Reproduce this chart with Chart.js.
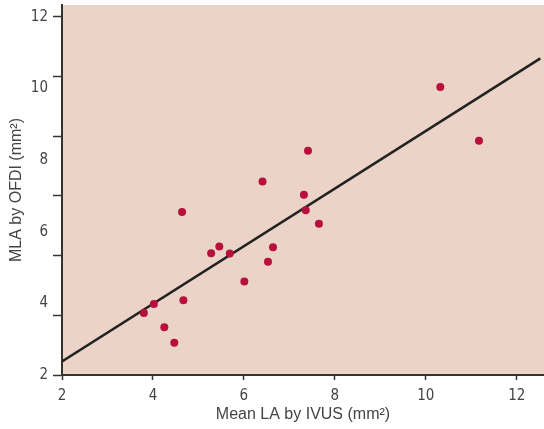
<!DOCTYPE html>
<html>
<head>
<meta charset="utf-8">
<script src="https://cdn.jsdelivr.net/npm/chart.js@4"></script>
<style>
  html, body { margin: 0; padding: 0; background: #fff; }
</style>
</head>
<body>
<canvas id="chart" width="544" height="429"></canvas>
<script>
// Área luminal média por IVUS (x) contra MLA por OFDI (y), com reta de regressão
const ivusMeanLA = [4.64, 3.80, 4.02, 4.25, 4.47, 4.67, 5.28, 5.46, 5.69, 6.01, 6.53, 6.64, 6.41, 7.41, 7.32, 7.36, 7.65, 10.32, 11.17]
const ofdiMLA    = [6.55, 3.73, 3.98, 3.33, 2.90, 4.09, 5.40, 5.59, 5.39, 4.61, 5.16, 5.57, 7.40, 8.26, 7.03, 6.60, 6.22, 10.04, 8.54]

// reta ajustada (extremos)
const fitX = [2, 12.52]
const fitY = [2.38, 10.84]

const xTicks = [2, 4, 6, 8, 10, 12]
const yLabels = [2, 4, 6, 8, 10, 12]
// as marcas do eixo y do original não coincidem com os rótulos
const yMarks = [2, 3.667, 5.333, 7, 8.667, 10.333, 12]

const tickFont = { family: "'Liberation Sans Narrow', 'DejaVu Sans Condensed', sans-serif", size: 15 }
const titleFont = { family: "'Liberation Sans', Arial, sans-serif", size: 16 }

const plotBg = {
  id: "plotBg",
  beforeDraw(chart) {
    const { ctx, chartArea: a } = chart
    ctx.save()
    ctx.fillStyle = "#ebd3c7"
    ctx.fillRect(a.left, a.top, a.right - a.left, a.bottom - a.top)
    ctx.restore()
  }
}

new Chart(document.getElementById("chart"), {
  type: "scatter",
  data: {
    datasets: [
      {
        data: ivusMeanLA.map((x, i) => ({ x, y: ofdiMLA[i] })),
        backgroundColor: "#b8103c",
        borderWidth: 0,
        pointRadius: 4,
        order: 0
      },
      {
        type: "line",
        data: fitX.map((x, i) => ({ x, y: fitY[i] })),
        borderColor: "#222",
        borderWidth: 2.5,
        pointRadius: 0,
        fill: false,
        order: 1
      }
    ]
  },
  options: {
    responsive: false,
    animation: false,
    layout: { autoPadding: false, padding: { top: 5, right: 0, left: 0, bottom: 0 } },
    plugins: {
      legend: { display: false },
      tooltip: { enabled: false }
    },
    scales: {
      x: {
        type: "linear",
        min: 2,
        max: 12.6,
        afterBuildTicks: (s) => { s.ticks = xTicks.map((v) => ({ value: v })) },
        afterFit: (s) => {
          s.height = 54
          s.paddingLeft = 0
          s.paddingRight = 0
        },
        border: { color: "#333", width: 2 },
        grid: { drawOnChartArea: false, tickLength: 5, tickColor: "#333", tickWidth: 1.5 },
        ticks: { color: "#444", font: tickFont, padding: 7, maxRotation: 0 },
        title: {
          display: true,
          text: "Mean LA by IVUS (mm²)",
          color: "#444",
          font: titleFont,
          padding: { top: 0, bottom: 5 }
        }
      },
      y: {
        min: 2,
        max: 12.33,
        afterBuildTicks: (s) => {
          const vals = [...new Set([...yLabels, ...yMarks])].sort((a, b) => a - b)
          s.ticks = vals.map((v) => ({ value: v }))
        },
        afterFit: (s) => {
          s.width = 62
          s.paddingTop = 0
          s.paddingBottom = 0
        },
        border: { color: "#333", width: 2 },
        grid: {
          drawOnChartArea: false,
          tickLength: 9,
          tickWidth: 1.5,
          tickColor: (ctx) => yMarks.includes(ctx.tick?.value) ? "#333" : "rgba(0,0,0,0)"
        },
        ticks: {
          autoSkip: false,
          color: "#444",
          font: tickFont,
          padding: 5,
          callback: (v) => yLabels.includes(v) ? v : ""
        },
        title: {
          display: true,
          text: "MLA by OFDI (mm²)",
          color: "#444",
          font: titleFont,
          padding: { top: 7, bottom: 0 }
        }
      }
    }
  },
  plugins: [plotBg]
})
</script>
</body>
</html>
